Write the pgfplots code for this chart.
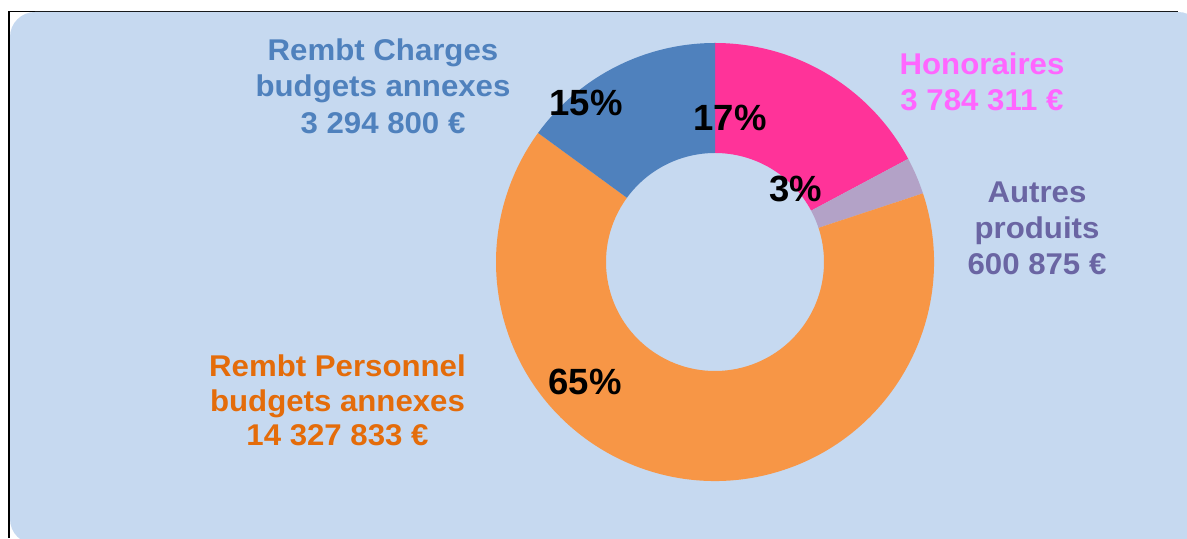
\documentclass[border=0pt]{standalone}
\usepackage{pgfplots}
\pgfplotsset{compat=1.18}
\usepackage{pgfplotstable}
\usepackage{fontspec}
\setmainfont{Liberation Sans}
\newfontfamily\labfont[FakeStretch=1.04]{Liberation Sans}
\definecolor{bg}{HTML}{C6D9F0}
\definecolor{cHon}{HTML}{FF3399}
\definecolor{cAut}{HTML}{B3A2C7}
\definecolor{cPer}{HTML}{F79646}
\definecolor{cCha}{HTML}{4F81BD}
\definecolor{tHon}{HTML}{FF66FF}
\definecolor{tAut}{HTML}{6A65A3}
\definecolor{tPer}{HTML}{E46C0A}
\definecolor{tCha}{HTML}{4F81BD}

\pgfplotstableread{
name value
Honoraires 3784311
Autres 600875
Personnel 14327833
Charges 3294800
}\data

\newcommand\slice[3]{%
  \fill[#3] ([shift={(#1:219bp)}]axis cs:715,276) arc[start angle=#1,end angle=#2,radius=219bp]
    -- ([shift={(#2:109bp)}]axis cs:715,276) arc[start angle=#2,end angle=#1,radius=109bp] -- cycle;}

\begin{document}
\begin{tikzpicture}
\pgfplotstablegetelem{0}{value}\of\data \edef\vA{\pgfplotsretval}
\pgfplotstablegetelem{1}{value}\of\data \edef\vB{\pgfplotsretval}
\pgfplotstablegetelem{2}{value}\of\data \edef\vC{\pgfplotsretval}
\pgfplotstablegetelem{3}{value}\of\data \edef\vD{\pgfplotsretval}
\edef\tot{\fpeval{\vA+\vB+\vC+\vD}}
\edef\aA{90}
\edef\aB{\fpeval{90-360*\vA/\tot}}
\edef\aC{\fpeval{90-360*(\vA+\vB)/\tot}}
\edef\aD{\fpeval{90-360*(\vA+\vB+\vC)/\tot}}
\edef\aE{-270}
\edef\pA{\fpeval{round(100*\vA/\tot)}}
\edef\pB{\fpeval{round(100*\vB/\tot)}}
\edef\pC{\fpeval{round(100*\vC/\tot)}}
\edef\pD{\fpeval{round(100*\vD/\tot)}}
\begin{axis}[width=1187bp,height=538bp,scale only axis,
  xmin=0,xmax=1187,ymin=0,ymax=538,hide axis,clip=false]
\fill[white] (axis cs:0,0) rectangle (axis cs:1187,538);
\draw[black,line width=1.8bp] (axis cs:9,0) -- (axis cs:9,526.5) -- (axis cs:1178,526.5);
\fill[bg,rounded corners=25bp] (axis cs:10,-6) rectangle (axis cs:1203,526);
\slice{\aA}{\aB}{cHon}
\slice{\aB}{\aC}{cAut}
\slice{\aC}{\aD}{cPer}
\slice{\aD}{\aE}{cCha}
\begin{scope}[every node/.style={font=\fontsize{36.5bp}{40bp}\selectfont\bfseries,text=black}]
\node at (axis cs:730,420) {\pA\%};
\node at (axis cs:796,349) {\pB\%};
\node at (axis cs:585,156) {\pC\%};
\node at (axis cs:586,435) {\pD\%};
\end{scope}
\begin{scope}[every node/.style={anchor=base,inner sep=0pt,font=\labfont\fontsize{30bp}{36bp}\selectfont\bfseries}]
\node[text=tCha] at (axis cs:383,477.3) {Rembt Charges};
\node[text=tCha] at (axis cs:383,441.3) {budgets annexes};
\node[text=tCha] at (axis cs:383,404) {3 294 800 €};
\node[text=tHon] at (axis cs:982,463.5) {Honoraires};
\node[text=tHon] at (axis cs:982,427.5) {3 784 311 €};
\node[text=tAut] at (axis cs:1037,335.3) {Autres};
\node[text=tAut] at (axis cs:1037,299) {produits};
\node[text=tAut] at (axis cs:1037,263) {600 875 €};
\node[text=tPer] at (axis cs:337.5,161.5) {Rembt Personnel};
\node[text=tPer] at (axis cs:337.5,126.5) {budgets annexes};
\node[text=tPer] at (axis cs:337.5,93) {14 327 833 €};
\end{scope}
\end{axis}
\pgfresetboundingbox
\path[use as bounding box] (current axis.south west) rectangle (current axis.north east);
\end{tikzpicture}
\end{document}
